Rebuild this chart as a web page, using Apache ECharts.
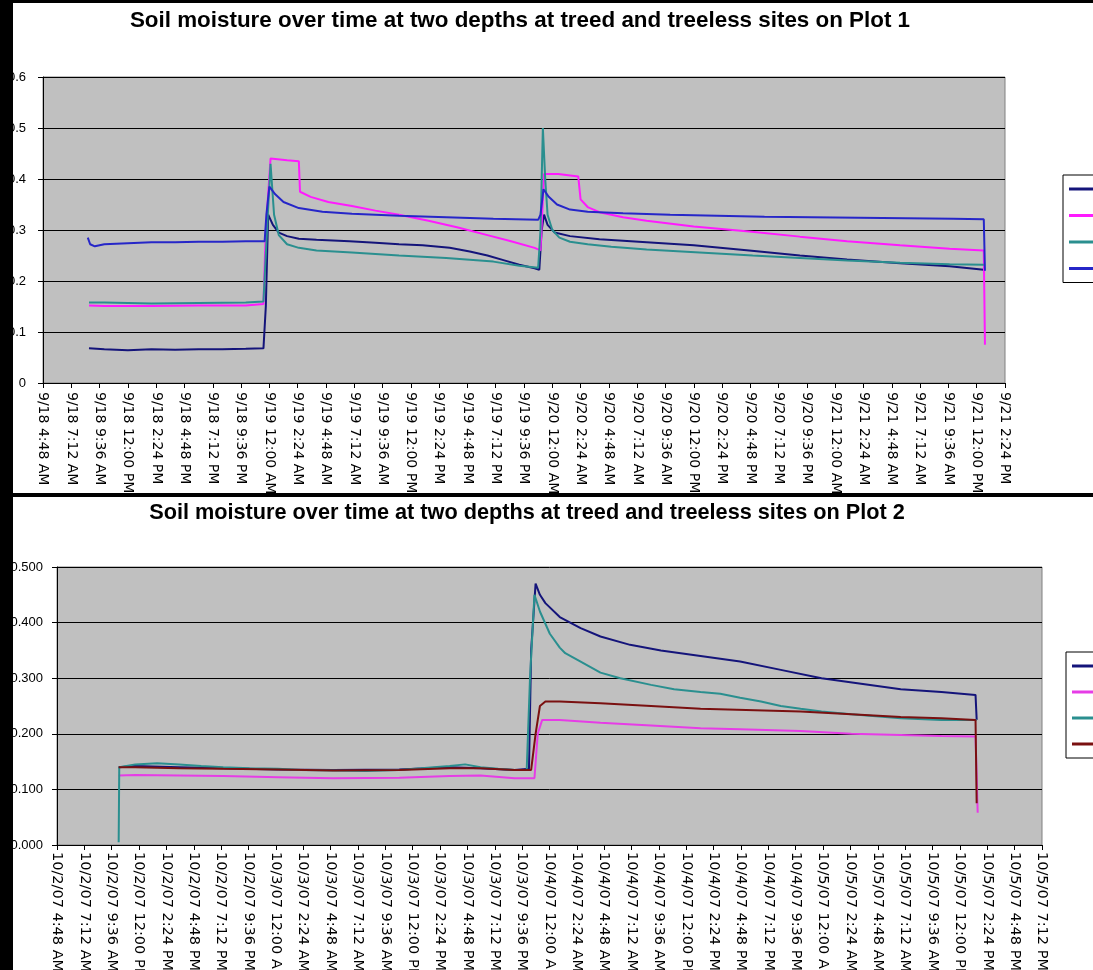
<!DOCTYPE html>
<html>
<head>
<meta charset="utf-8">
<script src="https://cdn.jsdelivr.net/npm/echarts@6/dist/echarts.min.js"></script>
<style>
  html, body { margin: 0; padding: 0; background: #000; width: 1093px; height: 970px; overflow: hidden; }
  #plot1 { position: absolute; left: 13px; top: 3px; width: 1080px; height: 490px; background: #fff; }
  #plot2 { position: absolute; left: 13px; top: 497px; width: 1080px; height: 473px; background: #fff; }
</style>
</head>
<body>
<div id="plot1"></div>
<div id="plot2"></div>
<script>
// ---------- Plot 1 (9/18 - 9/21), time in hours after 9/18 00:00 ----------
const plot1Title = 'Soil moisture over time at two depths at treed and treeless sites on Plot 1';
const plot1Names = ['Treed 10 cm', 'Treeless 10 cm', 'Treed 30 cm', 'Treeless 30 cm'];
const plot1Colors = ['#14147a', '#ff1aff', '#2a8f8f', '#2626c8'];
const plot1YTicks = [0, 0.1, 0.2, 0.3, 0.4, 0.5, 0.6];

const p1TreedShallowT = [8.7, 10, 12, 14, 16, 18, 20, 22, 23.5, 23.7, 23.9, 24.3, 24.8, 25.5, 26.5, 28, 30.8, 33, 35, 37, 39.3, 41, 42.5, 44, 45.2, 46.5, 46.9, 47.1, 47.3, 47.6, 48.2, 49.5, 52, 56, 60, 64.7, 69, 73, 77.5, 81.7, 84.6];
const p1TreedShallowV = [0.068, 0.066, 0.064, 0.066, 0.065, 0.066, 0.066, 0.067, 0.068, 0.15, 0.33, 0.31, 0.295, 0.288, 0.283, 0.281, 0.278, 0.275, 0.272, 0.27, 0.265, 0.258, 0.25, 0.24, 0.232, 0.225, 0.222, 0.30, 0.33, 0.31, 0.295, 0.288, 0.282, 0.276, 0.27, 0.26, 0.25, 0.242, 0.235, 0.229, 0.222];

const p1TreelessShallowT = [8.7, 10, 14, 18, 22, 23.5, 23.7, 24.1, 25.5, 26.5, 26.6, 27.5, 29, 31, 33, 35, 37.5, 40, 42.5, 44.5, 46.5, 47.0, 47.3, 48.5, 50.2, 50.4, 51, 52, 54, 56, 60, 64.7, 69, 73, 77.5, 81.7, 84.6, 84.7];
const p1TreelessShallowV = [0.152, 0.151, 0.151, 0.152, 0.152, 0.155, 0.3, 0.44, 0.437, 0.435, 0.375, 0.365, 0.355, 0.347, 0.338, 0.33, 0.318, 0.305, 0.29, 0.278, 0.265, 0.26, 0.41, 0.41, 0.405, 0.36, 0.345, 0.335, 0.325, 0.318, 0.307, 0.297, 0.287, 0.278, 0.27, 0.263, 0.26, 0.075];

const p1TreedDeepT = [8.7, 10, 14, 18, 22, 23.5, 23.8, 24.1, 24.4, 24.8, 25.5, 26.5, 28, 31, 35, 39, 43, 45.2, 46.8, 47.0, 47.2, 47.4, 47.6, 48.0, 48.6, 49.5, 51, 53, 56, 60.5, 65, 69, 73, 77.5, 81.7, 84.6];
const p1TreedDeepV = [0.158, 0.158, 0.156, 0.157, 0.158, 0.16, 0.3, 0.43, 0.33, 0.29, 0.272, 0.265, 0.26, 0.256, 0.25, 0.245, 0.238, 0.23, 0.226, 0.3, 0.5, 0.4, 0.33, 0.3, 0.285, 0.277, 0.272, 0.267, 0.262, 0.256, 0.25, 0.245, 0.24, 0.236, 0.233, 0.232];

const p1TreelessDeepT = [8.6, 8.8, 9.2, 10, 12, 14, 16, 18, 20, 22, 23.6, 23.75, 24.0, 24.5, 25.2, 26.5, 28.5, 31, 35, 39, 43, 46.8, 47.0, 47.25, 47.7, 48.4, 49.5, 51, 54, 58, 62, 66, 70, 74, 78, 82, 84.6, 84.7];
const p1TreelessDeepV = [0.285, 0.272, 0.268, 0.272, 0.274, 0.276, 0.276, 0.277, 0.277, 0.278, 0.278, 0.33, 0.385, 0.37, 0.355, 0.343, 0.336, 0.332, 0.328, 0.325, 0.322, 0.32, 0.33, 0.38, 0.365, 0.35, 0.34, 0.336, 0.333, 0.33, 0.328, 0.326, 0.325, 0.324, 0.323, 0.322, 0.321, 0.22];

// x axis: 9/18 4:48 AM to 9/21 2:24 PM, one label every 2.4 h
const plot1XMin = 4.8, plot1XMax = 86.4, plot1XStep = 2.4;

// ---------- Plot 2 (10/2/07 - 10/5/07), time in hours after 10/2 00:00 ----------
const plot2Title = 'Soil moisture over time at two depths at treed and treeless sites on Plot 2';
const plot2Names = ['Treed 10 cm', 'Treeless 10 cm', 'Treed 30 cm', 'Treeless 30 cm'];
const plot2Colors = ['#14147a', '#e63ce6', '#2a8f8f', '#7a1010'];
const plot2YTicks = [0, 0.1, 0.2, 0.3, 0.4, 0.5];

const p2TreedShallowT = [10.21, 11.66, 15.52, 19.38, 24.2, 29.02, 34.82, 39.25, 41.95, 44.94, 46.2, 46.39, 46.78, 47.16, 47.64, 48.9, 50.73, 52.47, 55.07, 57.77, 61.25, 64.72, 68.29, 71.86, 75.33, 78.81, 82.38, 85.37, 85.47];
const p2TreedShallowV = [0.14, 0.142, 0.14, 0.138, 0.136, 0.135, 0.136, 0.14, 0.138, 0.135, 0.137, 0.35, 0.47, 0.45, 0.435, 0.41, 0.39, 0.375, 0.36, 0.35, 0.34, 0.33, 0.315, 0.3, 0.29, 0.28, 0.275, 0.27, 0.225];

const p2TreelessShallowT = [10.21, 11.66, 15.52, 19.38, 24.2, 29.02, 34.82, 39.25, 41.95, 44.94, 46.68, 46.97, 47.36, 48.9, 52.47, 56.91, 61.25, 64.72, 70.03, 74.47, 78.81, 82.38, 85.37, 85.56];
const p2TreelessShallowV = [0.125, 0.126, 0.125, 0.124, 0.122, 0.12, 0.121, 0.124, 0.125, 0.12, 0.12, 0.2, 0.225, 0.225, 0.22, 0.215, 0.21, 0.208, 0.205, 0.2, 0.198, 0.196, 0.195, 0.058];

const p2TreedDeepT = [10.21, 10.26, 11.66, 13.59, 15.52, 17.45, 19.38, 21.69, 24.2, 26.13, 29.02, 31.92, 34.82, 36.75, 39.25, 40.6, 41.95, 43.5, 44.94, 46.0, 46.29, 46.68, 47.16, 48.03, 48.9, 49.38, 50.73, 51.6, 52.47, 54.21, 56.91, 58.93, 61.25, 62.98, 64.72, 66.55, 68.29, 70.03, 71.86, 74.47, 78.81, 82.38, 85.47];
const p2TreedDeepV = [0.005, 0.14, 0.145, 0.147, 0.145, 0.142, 0.14, 0.138, 0.137, 0.135, 0.134, 0.133, 0.135, 0.138, 0.142, 0.145, 0.14, 0.137, 0.135, 0.135, 0.3, 0.45, 0.42, 0.38, 0.355, 0.345, 0.33, 0.32, 0.31, 0.3, 0.288, 0.28, 0.275, 0.272, 0.265, 0.258, 0.25, 0.245, 0.24, 0.235, 0.228, 0.225, 0.225];

const p2TreelessDeepT = [10.21, 11.66, 15.52, 19.38, 24.2, 29.02, 34.82, 39.25, 41.95, 44.94, 46.39, 46.78, 47.16, 47.64, 48.9, 52.47, 56.91, 61.25, 70.03, 74.47, 78.81, 82.38, 85.37, 85.47];
const p2TreelessDeepV = [0.14, 0.14, 0.138, 0.137, 0.136, 0.134, 0.135, 0.138, 0.138, 0.135, 0.135, 0.2, 0.25, 0.258, 0.258, 0.255, 0.25, 0.245, 0.24, 0.235, 0.23, 0.228, 0.225, 0.075];

// x axis: 10/2/07 4:48 AM to 10/5/07 7:12 PM, one label every 2.4 h
const plot2XMin = 4.8, plot2XMax = 91.2, plot2XStep = 2.4;

// ---------- helpers ----------
function zip(t, v) { return t.map((x, i) => [x, v[i]]); }

function clock(hoursFromStart) {
  const m = Math.round(hoursFromStart * 60);
  const day = Math.floor(m / 1440);
  const t = m % 1440;
  let h = Math.floor(t / 60);
  const mm = t % 60;
  const ap = h < 12 ? 'AM' : 'PM';
  h = h % 12; if (h === 0) h = 12;
  return { day, text: h + ':' + String(mm).padStart(2, '0') + ' ' + ap };
}
const fmtPlot1 = v => { const c = clock(v); return '9/' + (18 + c.day) + ' ' + c.text; };
const fmtPlot2 = v => { const c = clock(v); return '10/' + (2 + c.day) + '/07 ' + c.text; };

function lineSeries(names, colors, pairsList) {
  return pairsList.map((d, i) => ({
    name: names[i], type: 'line', data: d, showSymbol: false, symbol: 'none',
    lineStyle: { color: colors[i], width: 2 }, itemStyle: { color: colors[i] },
    animation: false, z: 3
  }));
}

function buildOption(cfg) {
  return {
    animation: false,
    backgroundColor: '#ffffff',
    title: {
      text: cfg.title, left: cfg.titleX, top: cfg.titleY, textAlign: 'center', padding: 0,
      textStyle: { fontFamily: 'Liberation Sans', fontWeight: 'bold', fontSize: cfg.titleSize, color: '#000' }
    },
    legend: {
      orient: 'vertical', left: cfg.legendX, top: cfg.legendY,
      icon: 'rect', itemWidth: 30, itemHeight: 3, itemGap: cfg.legendGap,
      padding: [7, 8, 7, 6], backgroundColor: '#fff', borderColor: '#000', borderWidth: 1,
      textStyle: { fontFamily: 'Liberation Sans', fontSize: 12, lineHeight: 14, color: '#000' },
      data: cfg.names
    },
    grid: {
      left: cfg.grid.left, top: cfg.grid.top, width: cfg.grid.width, height: cfg.grid.height,
      outerBoundsMode: 'none', containLabel: false,
      show: true, backgroundColor: '#c0c0c0', borderColor: '#808080', borderWidth: 1
    },
    xAxis: {
      type: 'value', min: cfg.xMin, max: cfg.xMax, interval: cfg.xStep,
      axisLine: { show: true, onZero: false, lineStyle: { color: '#000', width: 1 } },
      axisTick: { show: true, length: 5, lineStyle: { color: '#000' } },
      splitLine: { show: false },
      axisLabel: {
        rotate: -90, margin: cfg.xLabelMargin, formatter: cfg.xFmt, color: '#000',
        fontFamily: 'DejaVu Sans', fontSize: cfg.xLabelSize
      }
    },
    yAxis: {
      type: 'value', min: cfg.yTicks[0], max: cfg.yTicks[cfg.yTicks.length - 1],
      interval: cfg.yTicks[1] - cfg.yTicks[0],
      axisLine: { show: true, lineStyle: { color: '#000', width: 1 } },
      axisTick: { show: true, length: 5, lineStyle: { color: '#000' } },
      splitLine: { show: true, lineStyle: { color: '#000', width: 1 } },
      axisLabel: {
        margin: cfg.yLabelMargin, formatter: cfg.yFmt, color: '#000',
        fontFamily: 'Liberation Sans', fontSize: cfg.yLabelSize
      }
    },
    series: lineSeries(cfg.names, cfg.colors, cfg.data)
  };
}

const chart1 = echarts.init(document.getElementById('plot1'), null, { renderer: 'canvas' });
chart1.setOption(buildOption({
  title: plot1Title, titleX: 507, titleY: 7, titleSize: 22.4,
  names: plot1Names, colors: plot1Colors,
  legendX: 1050, legendY: 172, legendGap: 12.5,
  grid: { left: 30, top: 74, width: 962, height: 306 },
  xMin: plot1XMin, xMax: plot1XMax, xStep: plot1XStep, xFmt: fmtPlot1, xLabelMargin: 9, xLabelSize: 14,
  yTicks: plot1YTicks, yFmt: v => String(Math.round(v * 10) / 10), yLabelMargin: 17, yLabelSize: 13,
  data: [zip(p1TreedShallowT, p1TreedShallowV), zip(p1TreelessShallowT, p1TreelessShallowV),
         zip(p1TreedDeepT, p1TreedDeepV), zip(p1TreelessDeepT, p1TreelessDeepV)]
}));

const chart2 = echarts.init(document.getElementById('plot2'), null, { renderer: 'canvas' });
chart2.setOption(buildOption({
  title: plot2Title, titleX: 514, titleY: 5, titleSize: 21.7,
  names: plot2Names, colors: plot2Colors,
  legendX: 1053, legendY: 155, legendGap: 12,
  grid: { left: 44, top: 70, width: 985, height: 278 },
  xMin: plot2XMin, xMax: plot2XMax, xStep: plot2XStep, xFmt: fmtPlot2, xLabelMargin: 7, xLabelSize: 14.5,
  yTicks: plot2YTicks, yFmt: v => v.toFixed(3), yLabelMargin: 14, yLabelSize: 13,
  data: [zip(p2TreedShallowT, p2TreedShallowV), zip(p2TreelessShallowT, p2TreelessShallowV),
         zip(p2TreedDeepT, p2TreedDeepV), zip(p2TreelessDeepT, p2TreelessDeepV)]
}));
</script>
</body>
</html>
